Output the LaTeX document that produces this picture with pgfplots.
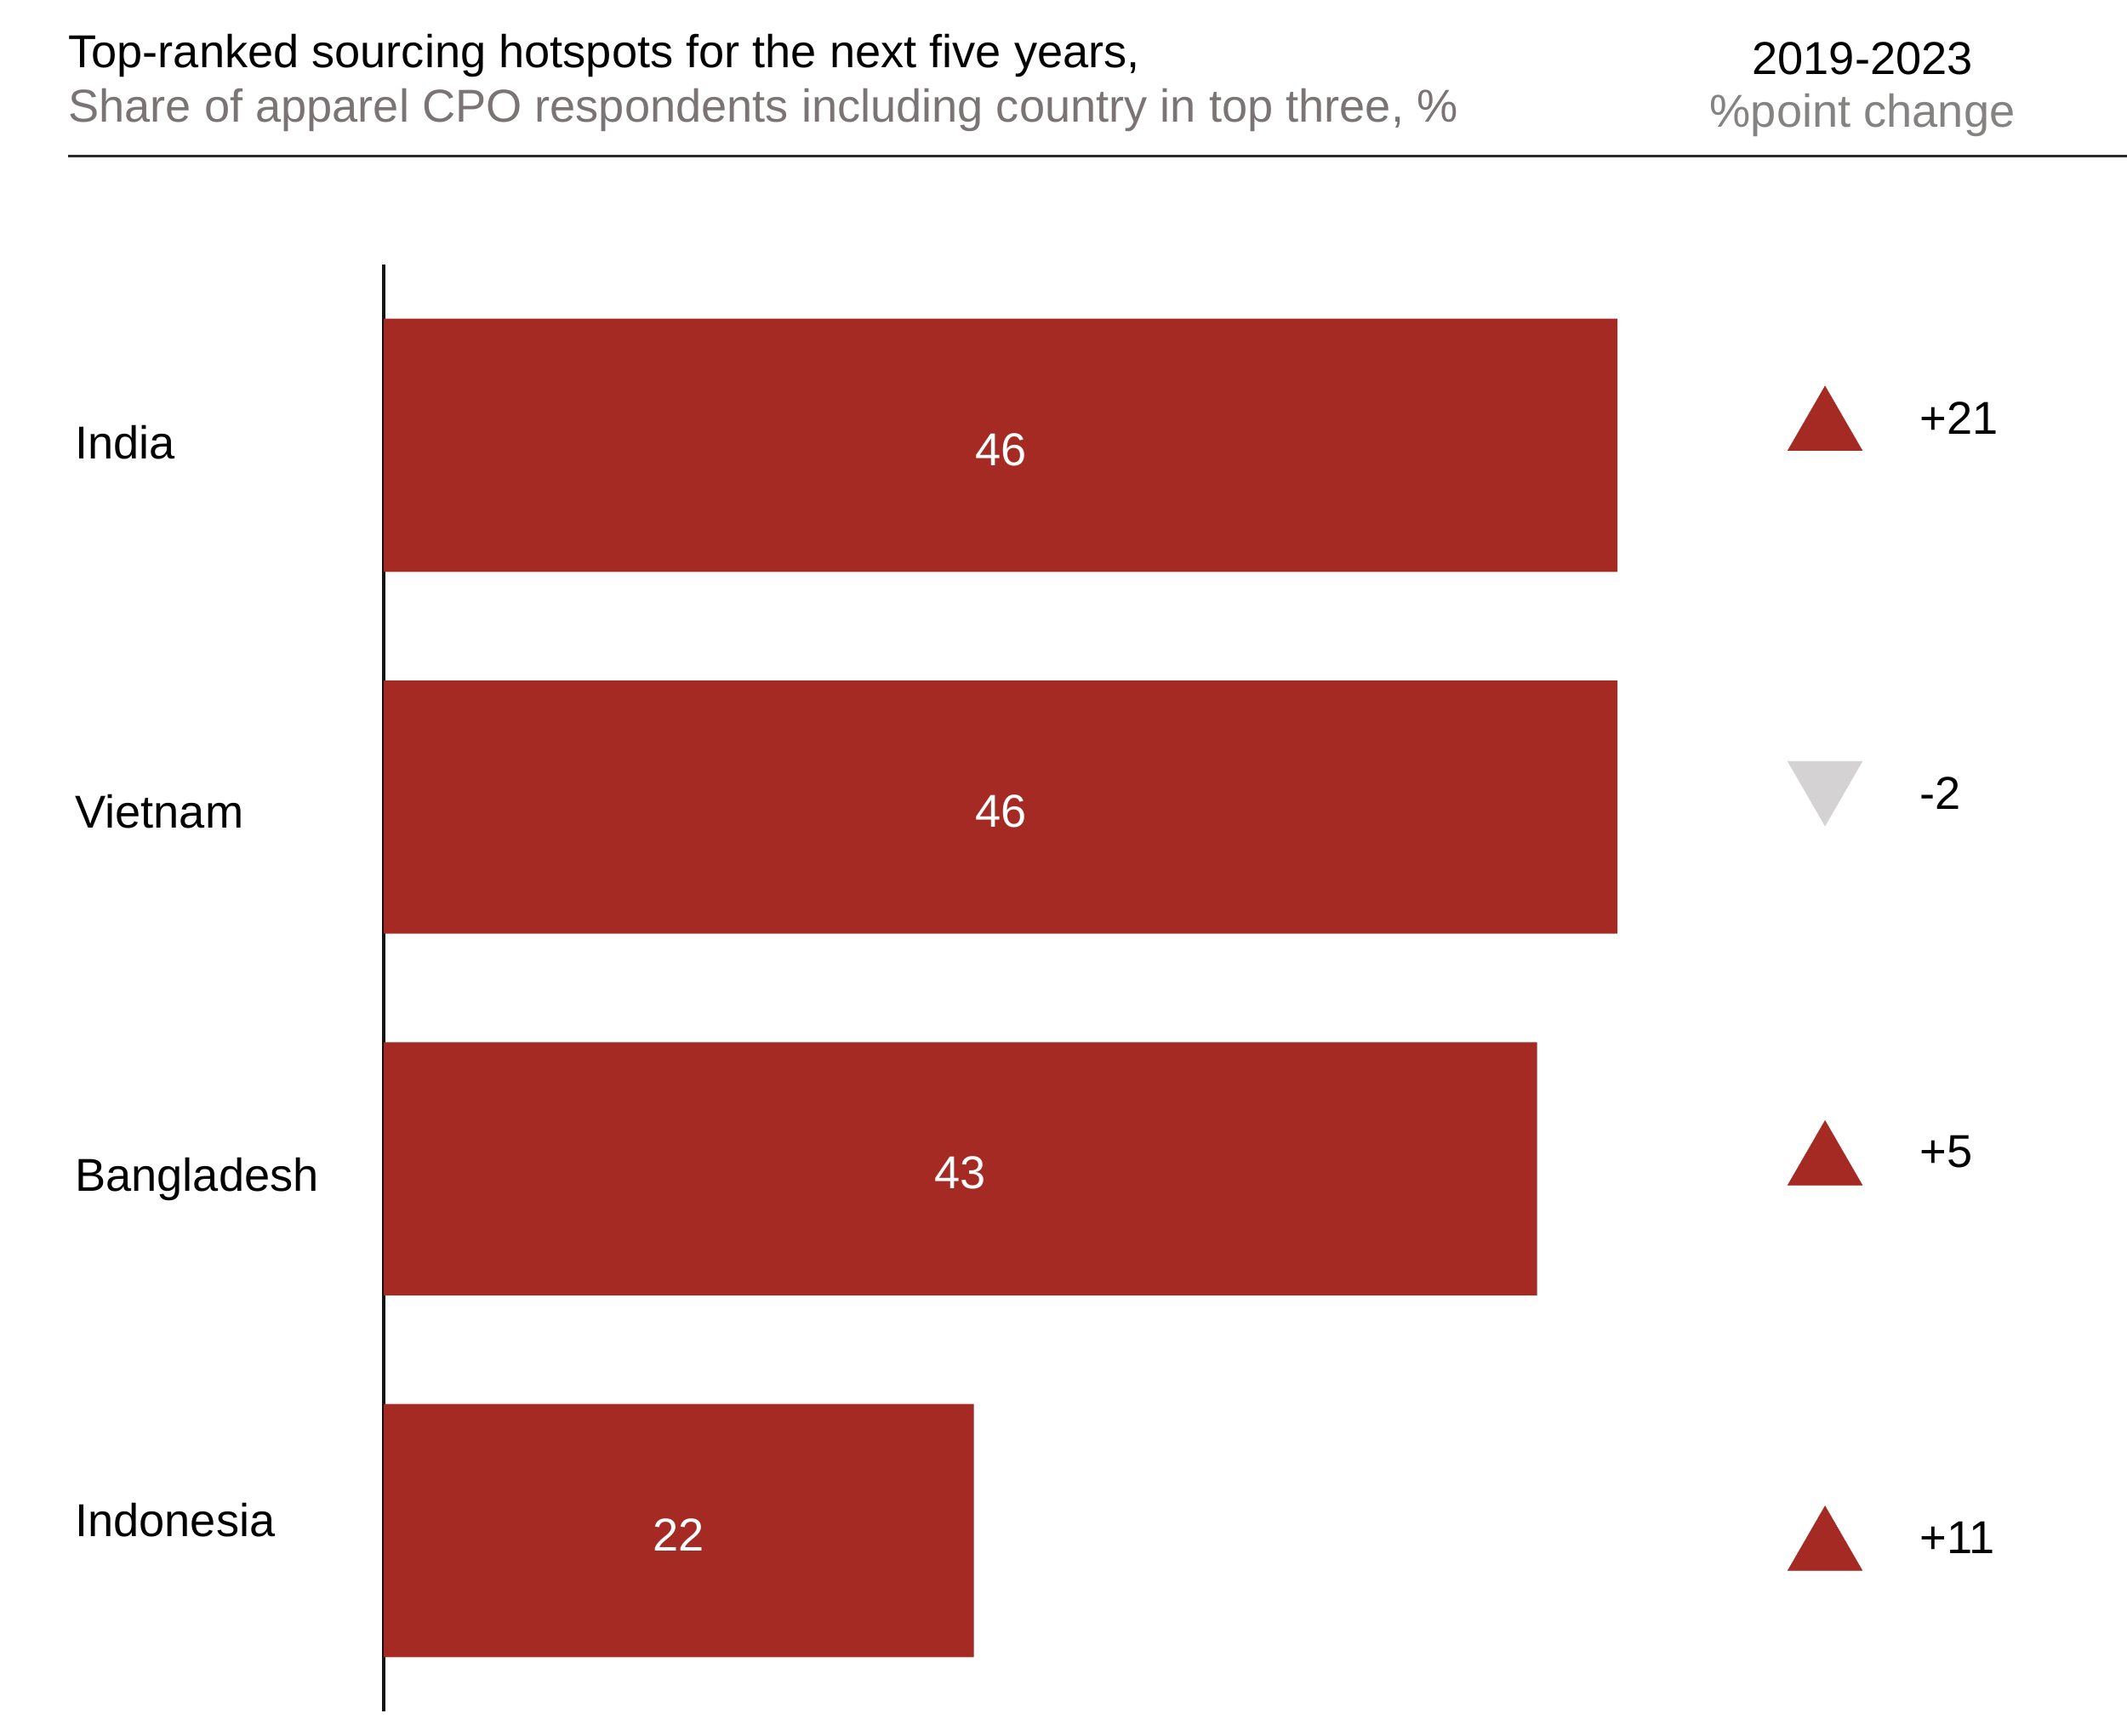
\documentclass[border=0pt]{standalone}
\usepackage{fontspec}
\setmainfont{Liberation Sans}
\usepackage{pgfplots}
\pgfplotsset{compat=1.18}
\usepackage{pgfplotstable}

\definecolor{barred}{HTML}{A52A24}
\definecolor{subgray}{HTML}{7A7474}
\definecolor{hdrgray}{HTML}{858282}
\definecolor{trigray}{HTML}{D4D2D3}
\definecolor{rulegray}{HTML}{2B2B2B}

% share of respondents (y = row position, India on top)
\pgfplotstableread{
y v
4 46
3 46
2 43
1 22
}\sharetable

% %point change 2019-2023, text position
\pgfplotstableread{
x y chg
57.26 4.076 +21
57.26 3.038 -2
57.26 2.048 +5
57.26 0.980 +11
}\chgtable

\begin{document}
\fontsize{17}{20}\selectfont
\begin{tikzpicture}
\useasboundingbox (0,0) rectangle (784pt,-640pt);

% header
\node[anchor=base west, inner sep=0pt] at (25pt,-25pt) {Top-ranked sourcing hotspots for the next five years,};
\node[anchor=base west, inner sep=0pt, text=subgray] at (25pt,-45pt) {Share of apparel CPO respondents including country in top three, \%};
\node[anchor=base, inner sep=0pt] at (686.5pt,-27.5pt) {2019-2023};
\node[anchor=base, inner sep=0pt, text=hdrgray] at (686.5pt,-47pt) {\%point change};
\draw[rulegray, line width=0.95pt] (25pt,-57.5pt) -- (784pt,-57.5pt);

\begin{axis}[
  at={(141.5pt,-631pt)}, anchor=south west,
  scale only axis,
  width=642.5pt, height=533.5pt,
  xmin=0, xmax=65,
  ymin=0.5, ymax=4.5,
  clip=false,
  axis lines*=left,
  separate axis lines,
  x axis line style={draw=none},
  y axis line style={draw=black!93, line width=1.25pt, -},
  xtick=\empty,
  ytick={1.029,1.985,2.989,4.009},
  yticklabels={Indonesia,Bangladesh,Vietnam,India},
  major tick length=0pt,
  yticklabel style={anchor=west, inner sep=0pt, text depth=0pt, xshift=-114pt},
]
  % bars
  \addplot[xbar, bar width=0.7, fill=barred, draw=none] table[x=v, y=y] {\sharetable};
  % value labels in the middle of each bar
  \addplot[draw=none, mark=none, nodes near coords, point meta=explicit,
    nodes near coords style={anchor=center, inner sep=0pt, yshift=-1.5pt, text=white,
      /pgf/number format/assume math mode=true}]
    table[x expr=\thisrow{v}/2, y=y, meta=v] {\sharetable};

  % change markers
  \addplot[only marks, mark=triangle*, mark size=15.9pt,
    mark options={fill=barred, draw=barred, line width=0.1pt}]
    coordinates {(53.74,4.045) (53.74,2.0145) (53.74,0.949)};
  \addplot[only marks, mark=triangle*, mark size=15.9pt,
    mark options={fill=trigray, draw=trigray, line width=0.1pt, rotate=180}]
    coordinates {(53.74,3.067)};

  % change labels
  \addplot[draw=none, mark=none, nodes near coords, point meta=explicit symbolic,
    nodes near coords style={anchor=west, inner sep=0pt, text=black}]
    table[x=x, y=y, meta=chg] {\chgtable};
\end{axis}
\end{tikzpicture}
\end{document}
